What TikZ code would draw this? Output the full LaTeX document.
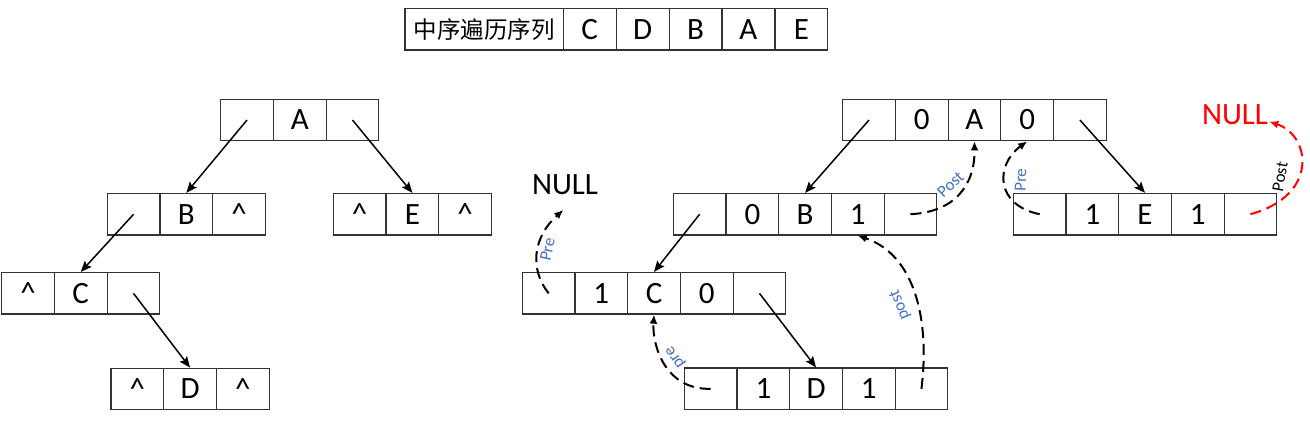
\documentclass[tikz,border=0pt]{standalone}
\usepackage{fontspec}
\setmainfont{Carlito}
\newfontfamily\cjk{Noto Sans CJK SC}
\usetikzlibrary{arrows.meta}
\definecolor{lblue}{HTML}{4472C4}
\definecolor{nred}{HTML}{FF0000}
\newcommand\cellrow[4]{%
  \foreach \t [count=\i] in {#4} {
    \node[cell] (#1\i) at ({#2+(\i-0.5)*52.7},#3) {\t};
  }%
}
\newcommand\cc{\textasciicircum}
\begin{document}
\begin{tikzpicture}[x=1pt,y=-1pt,
  cell/.style={draw=black!80, line width=1.2pt, minimum width=52.7pt, minimum height=41.5pt,
    inner sep=0pt, font=\fontsize{31}{31}\selectfont},
  bigtxt/.style={inner sep=0pt, font=\fontsize{31}{31}\selectfont},
  ptr/.style={line width=1.5pt, -{Stealth[length=11pt,width=9pt,inset=2pt]}},
  dashptr/.style={line width=2pt, dash pattern=on 11pt off 6pt, -{Latex[length=9pt,width=8pt]}},
  lbl/.style={text=lblue, inner sep=0pt, font=\fontsize{17}{17}\selectfont}]
\useasboundingbox (0,0) rectangle (1310,424);
\fill[white] (0,0) rectangle (1310,424);

% top table
\node[cell, minimum width=158.3pt, minimum height=41.7pt, font=\cjk\fontsize{23.5}{24}\selectfont] (T0) at (484.2,29.2) {中序遍历序列};
\foreach \t [count=\i] in {C,D,B,A,E} {
  \node[cell, minimum width=52.9pt, minimum height=41.7pt] (T\i) at ({563.3+(\i-0.5)*52.9},29.2) {\t};
}

% left tree
\cellrow{A}{220.7}{120}{{},A,{}}
\cellrow{B}{107.3}{214.2}{{},B,\cc}
\cellrow{E}{333.3}{214.2}{\cc,E,\cc}
\cellrow{C}{1.7}{293.3}{\cc,C,{}}
\cellrow{D}{111}{389}{\cc,D,\cc}

\draw[ptr] (A1.center) -- (B2.north);
\draw[ptr] (A3.center) -- (E2.north);
\draw[ptr] (B1.center) -- (C2.north);
\draw[ptr] (C3.center) -- (D2.north);

% right tree
\cellrow{RA}{842.7}{120}{{},0,A,0,{}}
\cellrow{RB}{673.3}{214.2}{{},0,B,1,{}}
\cellrow{RE}{1013.3}{214.2}{{},1,E,1,{}}
\cellrow{RC}{522.3}{293.3}{{},1,C,0,{}}
\cellrow{RD}{684.3}{388.8}{{},1,D,1,{}}

\draw[ptr] (RA1.center) -- (RB3.north);
\draw[ptr] (RA5.center) -- (RE3.north);
\draw[ptr] (RB1.center) -- (RC3.north);
\draw[ptr] (RC5.center) -- (RD3.north);

% NULL targets
\node[bigtxt] (null1) at (565,185) {NULL};
\node[bigtxt, text=nred] (null2) at (1235,114.7) {NULL};
\coordinate (n1tip) at (563.3,210);
\coordinate (n2tip) at (1269.3,121.7);

% threads
\draw[dashptr] (RC1.center) .. controls (530,270) and (532,238) .. (n1tip);
\draw[dashptr] (RD1.center) .. controls (665,390) and (652,345) .. (RC3.south);
\draw[dashptr] (RD5.center) .. controls (930,320) and (915,255) .. (RB4.south);
\draw[dashptr] (RB5.center) .. controls (955,212) and (975,185) .. (RA3.south);
\draw[dashptr] (RE1.center) .. controls (995,205) and (995,165) .. (RA4.south);
\draw[dashptr, draw=nred] (RE5.center) .. controls (1320,195) and (1310,135) .. (n2tip);

% labels
\node[lbl, rotate=78] (l1) at (547.5,249.3) {Pre};
\node[lbl, rotate=125] (l2) at (676,357) {pre};
\node[lbl, rotate=112] (l3) at (900,305) {post};
\node[lbl, rotate=43] (l4) at (950.5,184.5) {Post};
\node[lbl, rotate=88] (l5) at (1020.5,180) {Pre};
\node[lbl, rotate=80, text=black] (l6) at (1280,176.7) {Post};
\end{tikzpicture}
\end{document}
